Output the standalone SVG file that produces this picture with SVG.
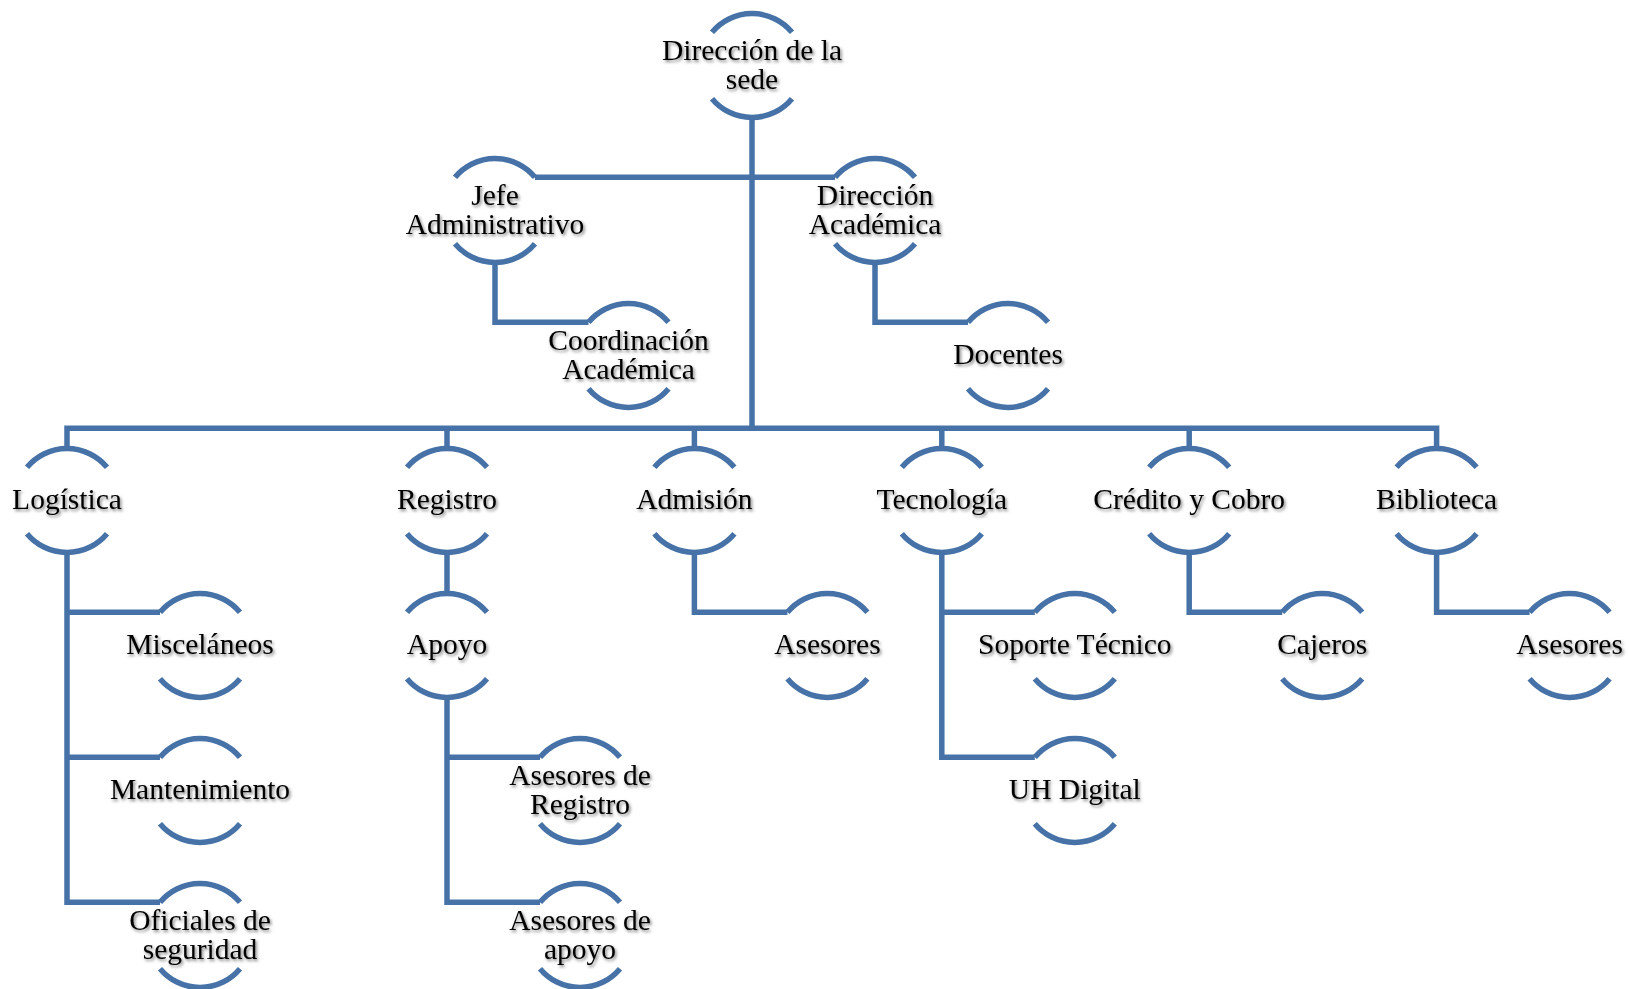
<svg xmlns="http://www.w3.org/2000/svg" xmlns:xlink="http://www.w3.org/1999/xlink" width="1629" height="989" viewBox="0 0 1629 989">
  <style>
    .ln { fill: none; stroke: #4672a8; stroke-width: 5.5; stroke-linejoin: miter; stroke-linecap: butt; }
    .ring { fill: none; stroke: #4672a8; stroke-width: 5.5; stroke-linecap: butt; }
    .lbl { font-family: "Liberation Serif", "Times New Roman", serif; font-size: 29.5px; fill: #000; text-anchor: middle; filter: url(#soft); }
  </style>
  <defs>
    <!-- soft drop shadow under the labels -->
    <filter id="soft" x="-20%" y="-40%" width="140%" height="180%">
      <feDropShadow dx="1.5" dy="2" stdDeviation="1.6" flood-color="#000" flood-opacity="0.5"/>
    </filter>
    <!-- half-circle node outline: upper and lower arcs, centred on 0,0 -->
    <path id="ring" class="ring" d="M-40,-33.2 A52,52 0 0 1 40,-33.2 M-40,33.2 A52,52 0 0 0 40,33.2"/>
  </defs>

  <rect width="1629" height="989" fill="#fff"/>

  <g id="connectors">
    <!-- trunk and second level -->
    <path class="ln" d="M752,117.5 V428.3"/>
    <path class="ln" d="M535,177.3 H835"/>
    <path class="ln" d="M495,262.5 V322.3 H588.5"/>
    <path class="ln" d="M875,262.5 V322.3 H968"/>
    <!-- department bus -->
    <path class="ln" d="M67,448.5 V428.3 H1436.6 V448.5"/>
    <path class="ln" d="M447,428.3 V448.5 M694.4,428.3 V448.5 M941.8,428.3 V448.5 M1189.2,428.3 V448.5"/>
    <!-- Logística -->
    <path class="ln" d="M67,552.5 V902.3 H160 M67,612.3 H160 M67,757.3 H160"/>
    <!-- Registro / Apoyo -->
    <path class="ln" d="M447,552.5 V593.5"/>
    <path class="ln" d="M447,697.5 V902.3 H540 M447,757.3 H540"/>
    <!-- Admisión -->
    <path class="ln" d="M694.4,552.5 V612.3 H787.4"/>
    <!-- Tecnología -->
    <path class="ln" d="M941.8,552.5 V757.3 H1034.8 M941.8,612.3 H1034.8"/>
    <!-- Crédito y Cobro -->
    <path class="ln" d="M1189.2,552.5 V612.3 H1282.2"/>
    <!-- Biblioteca -->
    <path class="ln" d="M1436.6,552.5 V612.3 H1529.6"/>
  </g>

  <g id="n-sede" transform="translate(752,65.5)">
    <use xlink:href="#ring"/>
    <text class="lbl"><tspan x="0" y="-5.5">Dirección de la</tspan><tspan x="0" y="23.5">sede</tspan></text>
  </g>
  <g id="n-jefe" transform="translate(495,210.5)">
    <use xlink:href="#ring"/>
    <text class="lbl"><tspan x="0" y="-5.5">Jefe</tspan><tspan x="0" y="23.5">Administrativo</tspan></text>
  </g>
  <g id="n-direccion-academica" transform="translate(875,210.5)">
    <use xlink:href="#ring"/>
    <text class="lbl"><tspan x="0" y="-5.5">Dirección</tspan><tspan x="0" y="23.5">Académica</tspan></text>
  </g>
  <g id="n-coordinacion" transform="translate(628.5,355.5)">
    <use xlink:href="#ring"/>
    <text class="lbl"><tspan x="0" y="-5.5">Coordinación</tspan><tspan x="0" y="23.5">Académica</tspan></text>
  </g>
  <g id="n-docentes" transform="translate(1008,355.5)">
    <use xlink:href="#ring"/>
    <text class="lbl" x="0" y="8.5">Docentes</text>
  </g>

  <g id="n-logistica" transform="translate(67,500.5)">
    <use xlink:href="#ring"/>
    <text class="lbl" x="0" y="8.5">Logística</text>
  </g>
  <g id="n-registro" transform="translate(447,500.5)">
    <use xlink:href="#ring"/>
    <text class="lbl" x="0" y="8.5">Registro</text>
  </g>
  <g id="n-admision" transform="translate(694.4,500.5)">
    <use xlink:href="#ring"/>
    <text class="lbl" x="0" y="8.5">Admisión</text>
  </g>
  <g id="n-tecnologia" transform="translate(941.8,500.5)">
    <use xlink:href="#ring"/>
    <text class="lbl" x="0" y="8.5">Tecnología</text>
  </g>
  <g id="n-credito" transform="translate(1189.2,500.5)">
    <use xlink:href="#ring"/>
    <text class="lbl" x="0" y="8.5">Crédito y Cobro</text>
  </g>
  <g id="n-biblioteca" transform="translate(1436.6,500.5)">
    <use xlink:href="#ring"/>
    <text class="lbl" x="0" y="8.5">Biblioteca</text>
  </g>

  <g id="n-miscelaneos" transform="translate(200,645.5)">
    <use xlink:href="#ring"/>
    <text class="lbl" x="0" y="8.5">Misceláneos</text>
  </g>
  <g id="n-mantenimiento" transform="translate(200,790.5)">
    <use xlink:href="#ring"/>
    <text class="lbl" x="0" y="8.5">Mantenimiento</text>
  </g>
  <g id="n-oficiales" transform="translate(200,935.5)">
    <use xlink:href="#ring"/>
    <text class="lbl"><tspan x="0" y="-5.5">Oficiales de</tspan><tspan x="0" y="23.5">seguridad</tspan></text>
  </g>
  <g id="n-apoyo" transform="translate(447,645.5)">
    <use xlink:href="#ring"/>
    <text class="lbl" x="0" y="8.5">Apoyo</text>
  </g>
  <g id="n-asesores-registro" transform="translate(580,790.5)">
    <use xlink:href="#ring"/>
    <text class="lbl"><tspan x="0" y="-5.5">Asesores de</tspan><tspan x="0" y="23.5">Registro</tspan></text>
  </g>
  <g id="n-asesores-apoyo" transform="translate(580,935.5)">
    <use xlink:href="#ring"/>
    <text class="lbl"><tspan x="0" y="-5.5">Asesores de</tspan><tspan x="0" y="23.5">apoyo</tspan></text>
  </g>
  <g id="n-asesores-admision" transform="translate(827.4,645.5)">
    <use xlink:href="#ring"/>
    <text class="lbl" x="0" y="8.5">Asesores</text>
  </g>
  <g id="n-soporte" transform="translate(1074.8,645.5)">
    <use xlink:href="#ring"/>
    <text class="lbl" x="0" y="8.5">Soporte Técnico</text>
  </g>
  <g id="n-uh-digital" transform="translate(1074.8,790.5)">
    <use xlink:href="#ring"/>
    <text class="lbl" x="0" y="8.5">UH Digital</text>
  </g>
  <g id="n-cajeros" transform="translate(1322.2,645.5)">
    <use xlink:href="#ring"/>
    <text class="lbl" x="0" y="8.5">Cajeros</text>
  </g>
  <g id="n-asesores-biblioteca" transform="translate(1569.6,645.5)">
    <use xlink:href="#ring"/>
    <text class="lbl" x="0" y="8.5">Asesores</text>
  </g>
</svg>
